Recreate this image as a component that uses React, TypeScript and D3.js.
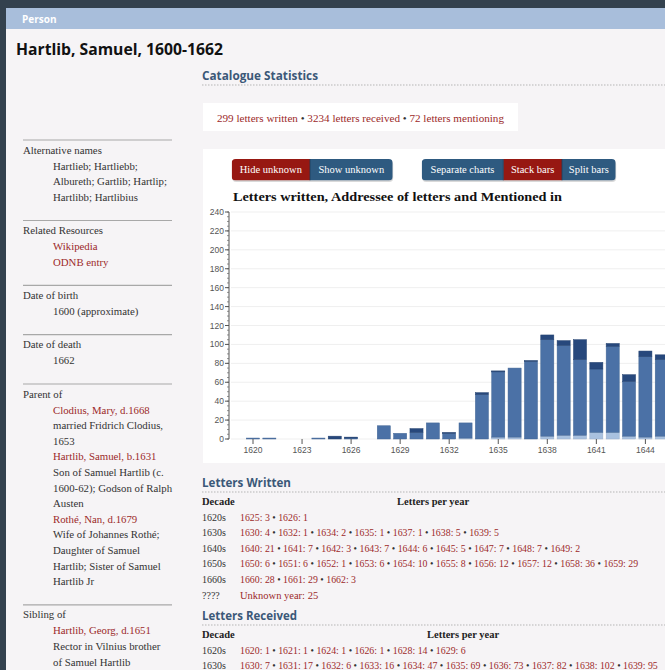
import React from 'react';
import * as d3 from 'd3';

// ---------------- DATA ----------------
const years = [1620, 1621, 1622, 1623, 1624, 1625, 1626, 1627, 1628, 1629, 1630, 1631, 1632, 1633, 1634, 1635, 1636, 1637, 1638, 1639, 1640, 1641, 1642, 1643, 1644, 1645];
const written = [0, 0, 0, 0, 0, 3, 1, 0, 0, 0, 4, 0, 1, 0, 2, 1, 0, 1, 5, 5, 21, 7, 3, 7, 6, 5];
const received = [1, 1, 0, 0, 1, 0, 1, 0, 14, 6, 7, 17, 6, 16, 47, 69, 73, 82, 102, 95, 80, 67, 91, 58, 85, 81];
const mentioned = [0, 0, 0, 0, 0, 0, 0, 0, 0, 0, 0, 0, 0, 1, 0, 2, 2, 0, 3, 4, 4, 7, 7, 3, 2, 3];
const seriesKeys = ['mentioned', 'received', 'written'];
const seriesColors = ['#a9c1df', '#4b71a6', '#27487c'];
const yTickValues = [0, 20, 40, 60, 80, 100, 120, 140, 160, 180, 200, 220, 240];
const xTickYears = [1620, 1623, 1626, 1629, 1632, 1635, 1638, 1641, 1644];

const chartTitle = 'Letters written, Addressee of letters and Mentioned in';
const personName = 'Hartlib, Samuel, 1600-1662';

const sidebarSections = [
  { label: 'Alternative names', lines: [['Hartlieb; Hartliebb;', 0], ['Albureth; Gartlib; Hartlip;', 0], ['Hartlibb; Hartlibius', 0]] },
  { label: 'Related Resources', lines: [['Wikipedia', 1], ['ODNB entry', 1]] },
  { label: 'Date of birth', lines: [['1600 (approximate)', 0]] },
  { label: 'Date of death', lines: [['1662', 0]] },
  {
    label: 'Parent of', lines: [
      ['Clodius, Mary, d.1668', 1], ['married Fridrich Clodius,', 0], ['1653', 0],
      ['Hartlib, Samuel, b.1631', 1], ['Son of Samuel Hartlib (c.', 0], ['1600-62); Godson of Ralph', 0], ['Austen', 0],
      ['Rothé, Nan, d.1679', 1], ['Wife of Johannes Rothé;', 0], ['Daughter of Samuel', 0], ['Hartlib; Sister of Samuel', 0], ['Hartlib Jr', 0],
    ]
  },
  { label: 'Sibling of', lines: [['Hartlib, Georg, d.1651', 1], ['Rector in Vilnius brother', 0], ['of Samuel Hartlib', 0]] },
];

const statsParts = ['299 letters written', '3234 letters received', '72 letters mentioning'];

const writtenRows: [string, [number, number][]][] = [
  ['1620s', [[1625, 3], [1626, 1]]],
  ['1630s', [[1630, 4], [1632, 1], [1634, 2], [1635, 1], [1637, 1], [1638, 5], [1639, 5]]],
  ['1640s', [[1640, 21], [1641, 7], [1642, 3], [1643, 7], [1644, 6], [1645, 5], [1647, 7], [1648, 7], [1649, 2]]],
  ['1650s', [[1650, 6], [1651, 6], [1652, 1], [1653, 6], [1654, 10], [1655, 8], [1656, 12], [1657, 12], [1658, 36], [1659, 29]]],
  ['1660s', [[1660, 28], [1661, 29], [1662, 3]]],
];
const writtenUnknown = 25;
const receivedRows: [string, [number, number][]][] = [
  ['1620s', [[1620, 1], [1621, 1], [1624, 1], [1626, 1], [1628, 14], [1629, 6]]],
  ['1630s', [[1630, 7], [1631, 17], [1632, 6], [1633, 16], [1634, 47], [1635, 69], [1636, 73], [1637, 82], [1638, 102], [1639, 95]]],
];

const buttonGroups = [
  [['Hide unknown', true], ['Show unknown', false]],
  [['Separate charts', false], ['Stack bars', true], ['Split bars', false]],
];

// ---------------- STYLE ----------------
const SERIF = "'Liberation Serif', 'DejaVu Serif', serif";
const SANS = "'Liberation Sans', Arial, sans-serif";
const HEAD = "'Open Sans', 'Noto Sans', sans-serif";
const RED = '#9c2a2a';
const TXT = '#333';
const HEADBLUE = '#3b5878';
const BTN_RED = '#971812';
const BTN_BLUE = '#2e5a80';

function Chart() {
  const step = 16.35;
  const r0 = 253 - 0.4 * step;
  const x = d3.scaleBand<number>().domain(years).range([r0, r0 + step * (years.length - 0.2)]).paddingInner(0.2).paddingOuter(0);
  const y = d3.scaleLinear().domain([0, 240]).range([439, 212]);
  const table = years.map((yr, i) => ({ year: yr, mentioned: mentioned[i], received: received[i], written: written[i] }));
  const stacked = d3.stack<any>().keys(seriesKeys)(table);
  const minor = y.ticks(60);
  const axisX = 229;
  return (
    <g>
      {yTickValues.map(t => (
        <line key={'g' + t} x1={axisX + 2} x2={665} y1={y(t)} y2={y(t)} stroke="#efefef" strokeWidth={1} />
      ))}
      {stacked.map((s, si) => (
        <g key={s.key} fill={seriesColors[si]}>
          {s.map((d, i) => {
            const h = y(d[0]) - y(d[1]);
            if (h <= 0) return null;
            return <rect key={i} x={x(d.data.year)!} y={y(d[1])} width={x.bandwidth()} height={h} stroke={d3.color(seriesColors[si])!.darker(0.3).toString()} strokeWidth={0.5} />;
          })}
        </g>
      ))}
      <line x1={axisX} x2={axisX} y1={y(240)} y2={y(0)} stroke="#555" strokeWidth={1} />
      {minor.map(t => (
        <line key={'m' + t} x1={axisX - 2} x2={axisX} y1={y(t)} y2={y(t)} stroke="#666" strokeWidth={0.7} />
      ))}
      {yTickValues.map(t => (
        <g key={'t' + t}>
          <line x1={axisX - 4} x2={axisX} y1={y(t)} y2={y(t)} stroke="#555" />
          <text x={axisX - 5} y={y(t) + 3} textAnchor="end" fontFamily={SANS} fontSize={8.5} fill="#555">{t}</text>
        </g>
      ))}
      {xTickYears.map(yr => {
        const cx = x(yr)! + x.bandwidth() / 2;
        return (
          <g key={'x' + yr}>
            <line x1={cx} x2={cx} y1={y(0)} y2={y(0) + 5} stroke="#555" />
            <text x={cx} y={453} textAnchor="middle" fontFamily={SANS} fontSize={8.5} fill="#555">{yr}</text>
          </g>
        );
      })}
      <text x={233} y={201} fontFamily={SERIF} fontWeight="bold" fontSize={12.5} fill="#111" textLength={329} lengthAdjust="spacingAndGlyphs">{chartTitle}</text>
    </g>
  );
}

function Buttons() {
  const groupX = [231.7, 421.7];
  const widths = [[78.3, 82.7], [81.6, 58.7, 53.7]];
  const y0 = 159, h = 21.5;
  return (
    <g>
      {buttonGroups.map((g, gi) => {
        let cx = groupX[gi];
        const total = widths[gi].reduce((a, b) => a + b, 0);
        const clipId = 'bclip' + gi;
        return (
          <g key={gi}>
            <defs>
              <clipPath id={clipId}><rect x={groupX[gi]} y={y0} width={total} height={h} rx={4} /></clipPath>
            </defs>
            <rect x={groupX[gi] + 0.5} y={y0 + 1.5} width={total} height={h} rx={4} fill="#000" opacity={0.15} />
            <g clipPath={`url(#${clipId})`}>
              {g.map(([label, active], bi) => {
                const w = widths[gi][bi];
                const bx = cx;
                cx += w;
                return (
                  <g key={bi}>
                    <rect x={bx} y={y0} width={w} height={h} fill={active ? BTN_RED : BTN_BLUE} />
                    {bi > 0 && <line x1={bx} x2={bx} y1={y0} y2={y0 + h} stroke="#1d3e5c" strokeWidth={0.8} />}
                    <text x={bx + w / 2} y={y0 + 14} textAnchor="middle" fontFamily={SERIF} fontSize={10.5} fill="#fff">{label as string}</text>
                  </g>
                );
              })}
            </g>
          </g>
        );
      })}
    </g>
  );
}

function Sidebar() {
  const items: JSX.Element[] = [];
  let ry = 140;
  const fs = 10.8;
  sidebarSections.forEach((sec, si) => {
    items.push(<line key={'r' + si} x1={23} x2={172} y1={ry} y2={ry} stroke="#a8a8a8" strokeWidth={1.2} />);
    const ly = ry + 13.5;
    items.push(<text key={'l' + si} x={23} y={ly} fontFamily={SERIF} fontSize={fs} fill={TXT}>{sec.label}</text>);
    let yy = ly + 16;
    sec.lines.forEach(([t, link], li) => {
      items.push(<text key={'t' + si + '_' + li} x={53} y={yy} fontFamily={SERIF} fontSize={fs} fill={link ? RED : TXT}>{t as string}</text>);
      yy += 15.6;
    });
    ry = yy - 15.6 + 19.8;
  });
  return <g>{items}</g>;
}

function YearRow({ x, y, label, entries }: { x: number; y: number; label: string; entries: [number, number][] }) {
  return (
    <g>
      <text x={202} y={y} fontFamily={SERIF} fontSize={10} fill={TXT}>{label}</text>
      <text x={x} y={y} fontFamily={SERIF} fontSize={9.85} fill={TXT} xmlSpace="preserve">
        {entries.map(([yr, n], i) => (
          <React.Fragment key={i}>
            {i > 0 && <tspan fill={TXT}>{' \u2022 '}</tspan>}
            <tspan fill={RED}>{`${yr}: ${n}`}</tspan>
          </React.Fragment>
        ))}
      </text>
    </g>
  );
}

function SectionHeader({ y, label, width }: { y: number; label: string; width: number }) {
  return (
    <g>
      <text x={202} y={y} fontFamily={HEAD} fontWeight="bold" fontSize={12.5} fill={HEADBLUE} textLength={width} lengthAdjust="spacingAndGlyphs">{label}</text>
      <line x1={202} x2={665} y1={y + 5} y2={y + 5} stroke="#b5b5b5" strokeDasharray="1.5,1.5" />
    </g>
  );
}

export default function App() {
  return (
    <div style={{ position: 'absolute', left: 0, top: 0 }}>
      <svg width={665} height={670} style={{ display: 'block' }}>
        <rect x={0} y={0} width={665} height={670} fill="#33414e" />
        <rect x={6} y={8} width={659} height={662} fill="#f6f4f6" />
        <rect x={6} y={8} width={659} height={21} fill="#a8bedb" />
        <text x={22} y={22.5} fontFamily={HEAD} fontWeight="bold" fontSize={10} fill="#fff">Person</text>
        <text x={16} y={55} fontFamily={HEAD} fontWeight="bold" fontSize={16.5} fill="#111" textLength={207} lengthAdjust="spacingAndGlyphs">{personName}</text>

        <Sidebar />

        <SectionHeader y={80} label="Catalogue Statistics" width={116} />

        <rect x={203} y={103} width={315} height={28} fill="#fff" />
        <text x={217} y={121.5} fontFamily={SERIF} fontSize={10} fill={TXT} xmlSpace="preserve" textLength={287} lengthAdjust="spacingAndGlyphs">
          {statsParts.map((p, i) => (
            <React.Fragment key={i}>
              {i > 0 && <tspan fill={TXT}>{' \u2022 '}</tspan>}
              <tspan fill={RED}>{p}</tspan>
            </React.Fragment>
          ))}
        </text>

        <rect x={203} y={149} width={462} height={314} fill="#fff" />
        <Buttons />
        <Chart />

        <SectionHeader y={487} label="Letters Written" width={89} />
        <text x={202} y={504.5} fontFamily={SERIF} fontWeight="bold" fontSize={10.5} fill="#222">Decade</text>
        <text x={397} y={504.5} fontFamily={SERIF} fontWeight="bold" fontSize={10.5} fill="#222">Letters per year</text>
        {writtenRows.map((r, i) => (
          <YearRow key={r[0]} x={240} y={520.5 + i * 15.6} label={r[0]} entries={r[1]} />
        ))}
        <text x={202} y={598.5} fontFamily={SERIF} fontSize={10} fill={TXT}>????</text>
        <text x={240} y={598.5} fontFamily={SERIF} fontSize={10.5} fill={RED}>{`Unknown year: ${writtenUnknown}`}</text>

        <SectionHeader y={620} label="Letters Received" width={95} />
        <text x={202} y={637.5} fontFamily={SERIF} fontWeight="bold" fontSize={10.5} fill="#222">Decade</text>
        <text x={427} y={637.5} fontFamily={SERIF} fontWeight="bold" fontSize={10.5} fill="#222">Letters per year</text>
        {receivedRows.map((r, i) => (
          <YearRow key={r[0]} x={240} y={653.5 + i * 15.2} label={r[0]} entries={r[1]} />
        ))}
      </svg>
    </div>
  );
}
